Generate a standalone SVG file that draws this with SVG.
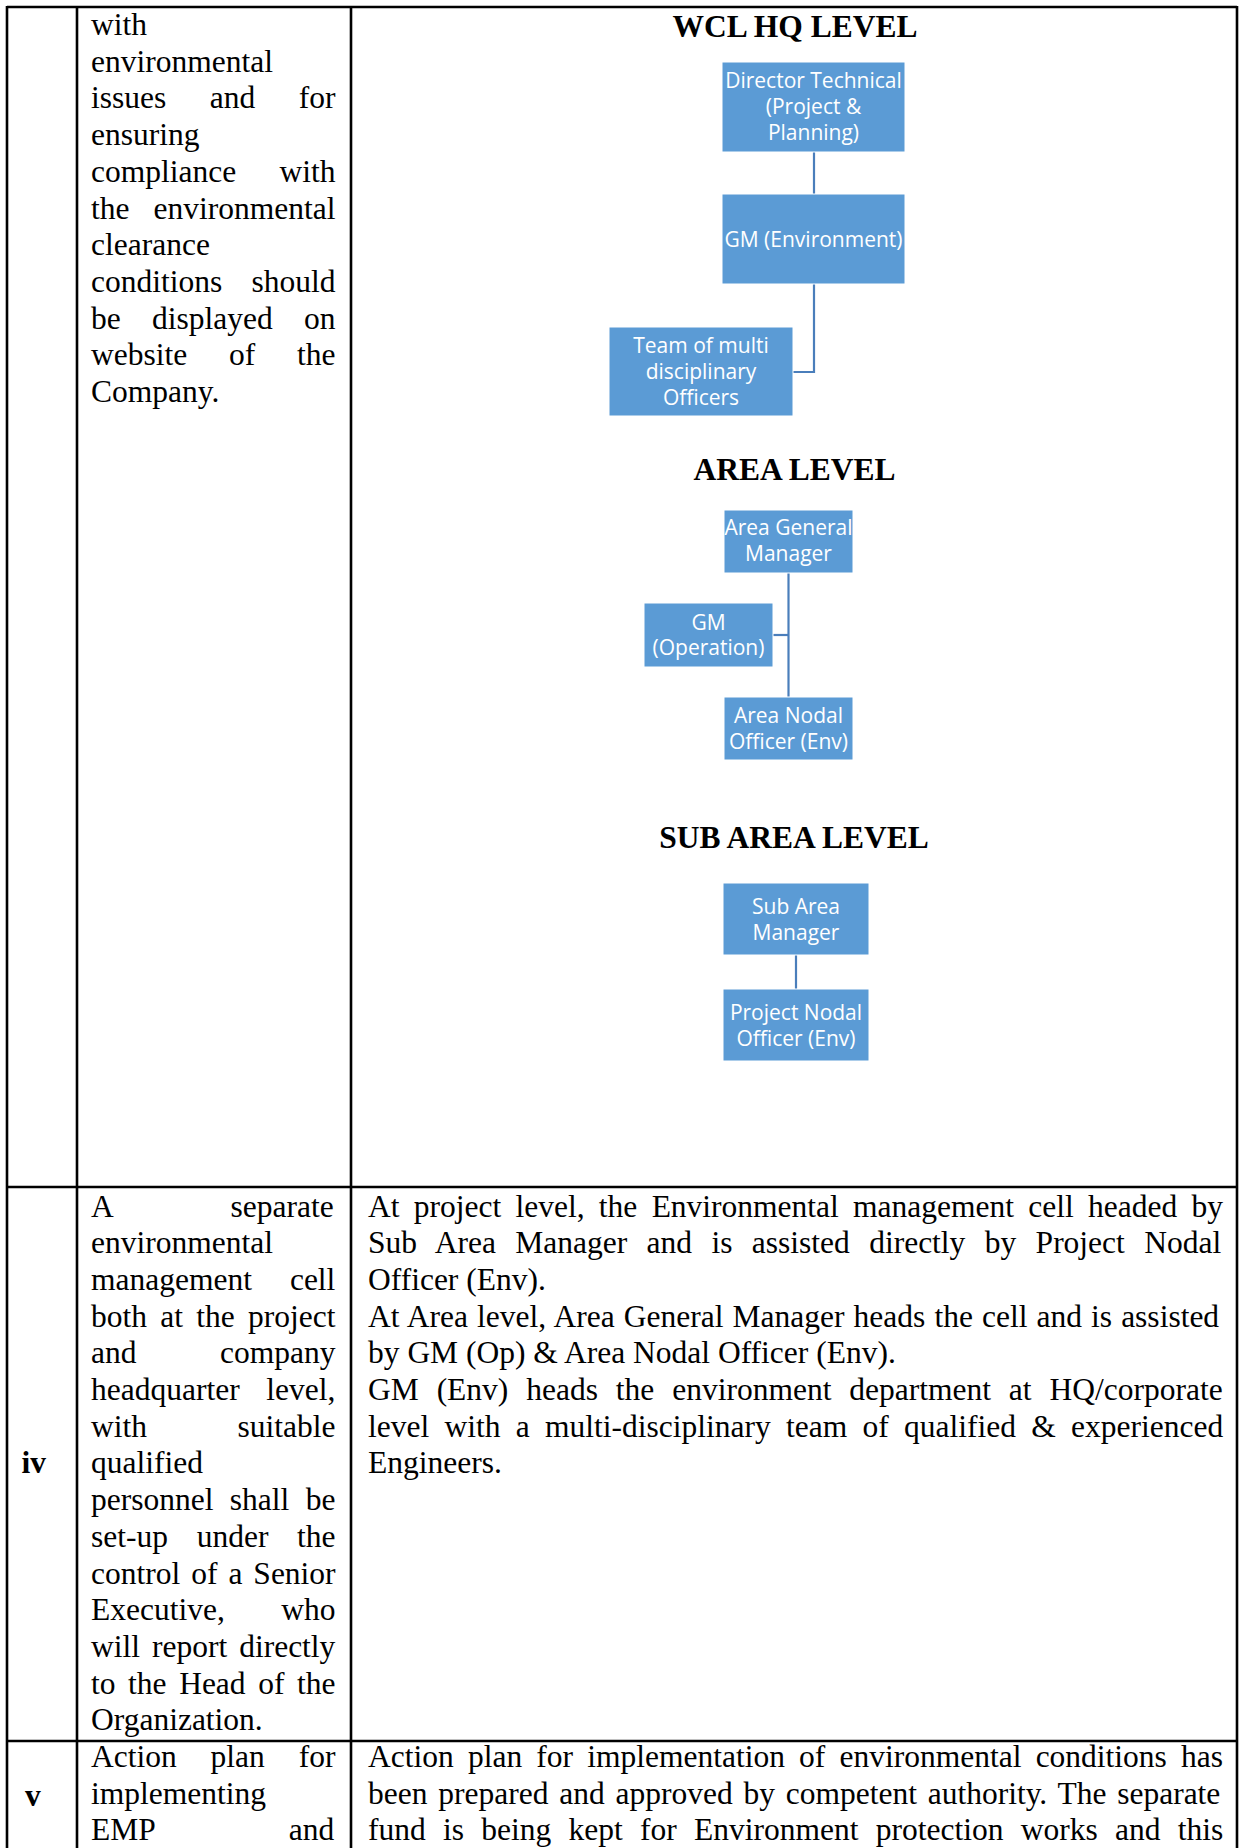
<svg xmlns="http://www.w3.org/2000/svg" width="1240" height="1848" viewBox="0 0 1240 1848">
<style>
.body{font-family:"Liberation Serif","Times New Roman",serif;font-size:31.5px;fill:#000}
.lab{font-family:"Liberation Serif","Times New Roman",serif;font-size:31.5px;font-weight:bold;fill:#000}
.title{font-family:"Liberation Serif","Times New Roman",serif;font-size:31.5px;font-weight:bold;fill:#000;text-anchor:middle}
.box{fill:#5B9BD5;stroke:#ffffff;stroke-width:1}
.lbl{font-family:"Open Sans","Noto Sans",sans-serif;font-size:21px;fill:#fff;text-anchor:middle}
.conn{stroke:#4A7EBB;stroke-width:2.2;fill:none}
.grid{stroke:#000;stroke-width:2.6;fill:none}
</style>
<rect width="1240" height="1848" fill="#fff"/>
<g id="table">
<line class="grid" x1="7" y1="7" x2="1237" y2="7"/>
<line class="grid" x1="7" y1="1187" x2="1237" y2="1187"/>
<line class="grid" x1="7" y1="1741" x2="1237" y2="1741"/>
<line class="grid" x1="7" y1="6" x2="7" y2="1848"/>
<line class="grid" x1="77" y1="6" x2="77" y2="1848"/>
<line class="grid" x1="351" y1="6" x2="351" y2="1848"/>
<line class="grid" x1="1237" y1="6" x2="1237" y2="1848"/>
</g>
<g id="row-iii-text" class="body">
<text x="91" y="35">with</text>
<text x="91" y="71.7">environmental</text>
<text x="91" y="108.4" word-spacing="35.6">issues and for</text>
<text x="91" y="145.1">ensuring</text>
<text x="91" y="181.8" word-spacing="35.4">compliance with</text>
<text x="91" y="218.5" word-spacing="16.1">the environmental</text>
<text x="91" y="255.2">clearance</text>
<text x="91" y="291.9" word-spacing="21.3">conditions should</text>
<text x="91" y="328.6" word-spacing="23.4">be displayed on</text>
<text x="91" y="365.3" word-spacing="33.9">website of the</text>
<text x="91" y="402">Company.</text>
</g>
<g id="titles">
<text class="title" x="795" y="37">WCL HQ LEVEL</text>
<text class="title" x="794.5" y="480">AREA LEVEL</text>
<text class="title" x="794" y="848">SUB AREA LEVEL</text>
</g>
<g id="connectors">
<line class="conn" x1="814" y1="152" x2="814" y2="194"/>
<polyline class="conn" points="814,284 814,372 793,372"/>
<line class="conn" x1="788.5" y1="573" x2="788.5" y2="697"/>
<line class="conn" x1="773" y1="635" x2="788.5" y2="635"/>
<line class="conn" x1="796" y1="955" x2="796" y2="989"/>
</g>
<g id="node-director">
<rect class="box" x="722" y="62" width="183" height="90"/>
<text class="lbl" x="813.5" y="88">Director Technical</text>
<text class="lbl" x="813.5" y="114">(Project &amp;</text>
<text class="lbl" x="813.5" y="139.5">Planning)</text>
</g>
<g id="node-gm-env">
<rect class="box" x="722" y="194" width="183" height="90"/>
<text class="lbl" x="813.5" y="246.5">GM (Environment)</text>
</g>
<g id="node-team">
<rect class="box" x="609" y="327" width="184" height="89"/>
<text class="lbl" x="701" y="352.5">Team of multi</text>
<text class="lbl" x="701" y="378.5">disciplinary</text>
<text class="lbl" x="701" y="404.5">Officers</text>
</g>
<g id="node-area-gm">
<rect class="box" x="724" y="510" width="129" height="63"/>
<text class="lbl" x="788.5" y="535">Area General</text>
<text class="lbl" x="788.5" y="561">Manager</text>
</g>
<g id="node-gm-op">
<rect class="box" x="644" y="603" width="129" height="64"/>
<text class="lbl" x="708.5" y="629.5">GM</text>
<text class="lbl" x="708.5" y="655">(Operation)</text>
</g>
<g id="node-area-nodal">
<rect class="box" x="724" y="697" width="129" height="63"/>
<text class="lbl" x="788.5" y="722.5">Area Nodal</text>
<text class="lbl" x="788.5" y="748.5">Officer (Env)</text>
</g>
<g id="node-sub-area">
<rect class="box" x="723" y="883" width="146" height="72"/>
<text class="lbl" x="796" y="913.5">Sub Area</text>
<text class="lbl" x="796" y="939.5">Manager</text>
</g>
<g id="node-project-nodal">
<rect class="box" x="723" y="989" width="146" height="72"/>
<text class="lbl" x="796" y="1019.5">Project Nodal</text>
<text class="lbl" x="796" y="1045.5">Officer (Env)</text>
</g>
<g id="row-iv">
<text class="lab" x="21.5" y="1473.4">iv</text>
<g class="body">
<text x="91" y="1216.5" word-spacing="110.7">A separate</text>
<text x="91" y="1253.2">environmental</text>
<text x="91" y="1289.9" word-spacing="30.1">management cell</text>
<text x="91" y="1326.6" word-spacing="5.4">both at the project</text>
<text x="91" y="1363.3" word-spacing="75.6">and company</text>
<text x="91" y="1400" word-spacing="18.8">headquarter level,</text>
<text x="91" y="1436.7" word-spacing="82.6">with suitable</text>
<text x="91" y="1473.4">qualified</text>
<text x="91" y="1510.1" word-spacing="8.5">personnel shall be</text>
<text x="91" y="1546.8" word-spacing="20.8">set-up under the</text>
<text x="91" y="1583.5" word-spacing="3.1">control of a Senior</text>
<text x="91" y="1620.2" word-spacing="48.5">Executive, who</text>
<text x="91" y="1656.9" word-spacing="4.1">will report directly</text>
<text x="91" y="1693.6" word-spacing="4.7">to the Head of the</text>
<text x="91" y="1730.3">Organization.</text>
<text x="368" y="1216.5" word-spacing="6.4">At project level, the Environmental management cell headed by</text>
<text x="368" y="1253.2" word-spacing="11.5">Sub Area Manager and is assisted directly by Project Nodal</text>
<text x="368" y="1289.9">Officer (Env).</text>
<text x="368" y="1326.6" word-spacing="1.2">At Area level, Area General Manager heads the cell and is assisted</text>
<text x="368" y="1363.3">by GM (Op) &amp; Area Nodal Officer (Env).</text>
<text x="368" y="1400" word-spacing="10">GM (Env) heads the environment department at HQ/corporate</text>
<text x="368" y="1436.7" word-spacing="7.4">level with a multi-disciplinary team of qualified &amp; experienced</text>
<text x="368" y="1473.4">Engineers.</text>
</g>
</g>
<g id="row-v">
<text class="lab" x="25" y="1806">v</text>
<g class="body">
<text x="91" y="1767" word-spacing="26">Action plan for</text>
<text x="91" y="1803.7">implementing</text>
<text x="91" y="1840.4" word-spacing="126.4">EMP and</text>
<text x="368" y="1767" word-spacing="6.3">Action plan for implementation of environmental conditions has</text>
<text x="368" y="1803.7" word-spacing="2.9">been prepared and approved by competent authority. The separate</text>
<text x="368" y="1840.4" word-spacing="9.4">fund is being kept for Environment protection works and this</text>
</g>
</g>
</svg>
